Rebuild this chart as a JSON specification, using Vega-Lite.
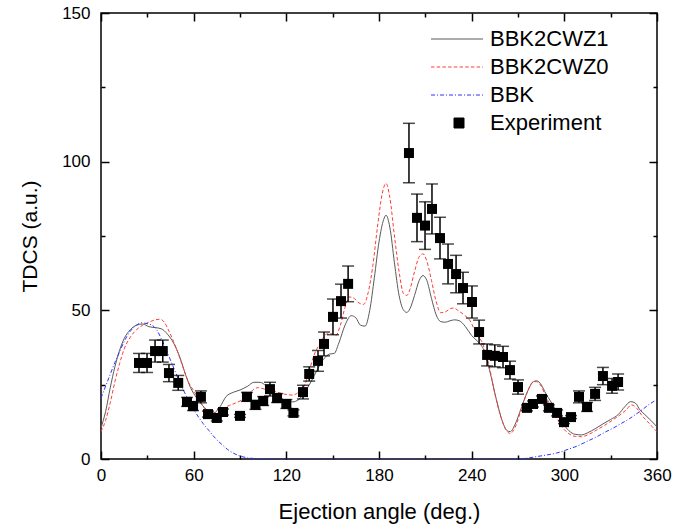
{
  "$schema": "https://vega.github.io/schema/vega-lite/v6.json",
  "width": 556,
  "height": 446,
  "autosize": {"type": "none"},
  "padding": {"left": 101, "top": 13, "right": 32, "bottom": 71},
  "background": "white",
  "config": {
    "font": "Liberation Sans",
    "view": {"stroke": "black", "strokeWidth": 1.5},
    "axis": {"grid": false, "domain": false, "tickColor": "black", "tickWidth": 1.5, "labelFont": "Liberation Sans", "labelFontSize": 17, "labelColor": "black", "titleFont": "Liberation Sans", "titleFontSize": 21, "titleFontWeight": "normal", "titleColor": "black"}
  },
  "resolve": {"axis": {"x": "independent", "y": "independent"}},
  "datasets": {
    "z1": [
      {"a":0,"v":10.5},{"a":3,"v":16},{"a":6,"v":24},{"a":9,"v":31},{"a":12,"v":36.5},{"a":15,"v":40.5},{"a":19,"v":43.5},{"a":23,"v":45},{"a":27,"v":45.4},{"a":31,"v":44.5},{"a":35,"v":44.2},{"a":39,"v":43.8},{"a":43,"v":42},{"a":47,"v":39},{"a":51,"v":34.3},{"a":55,"v":28},{"a":58,"v":24},{"a":62,"v":20.5},{"a":65,"v":18.5},{"a":69,"v":16.3},{"a":73,"v":15.5},{"a":77,"v":17.5},{"a":81,"v":21},{"a":86,"v":22.5},{"a":90,"v":23.2},{"a":95,"v":24.5},{"a":99,"v":25.8},{"a":103,"v":25.8},{"a":107,"v":24.5},{"a":111,"v":22.5},{"a":116,"v":20.5},{"a":120,"v":19.8},{"a":124,"v":19.2},{"a":128,"v":20},{"a":132,"v":22.5},{"a":136,"v":26},{"a":140,"v":30},{"a":144,"v":33.5},{"a":148,"v":35.3},{"a":151,"v":35.5},{"a":154,"v":39},{"a":158,"v":45},{"a":162,"v":48.2},{"a":165,"v":47.5},{"a":168,"v":45},{"a":171,"v":44.7},{"a":174,"v":50},{"a":177,"v":61},{"a":180,"v":73},{"a":183,"v":80.5},{"a":184.5,"v":82},{"a":187,"v":78},{"a":190,"v":66},{"a":193,"v":55},{"a":196,"v":50},{"a":198,"v":49.3},{"a":200,"v":50.5},{"a":203,"v":55},{"a":206,"v":60},{"a":208.5,"v":61.7},{"a":211,"v":60},{"a":214,"v":54},{"a":217,"v":48.5},{"a":220,"v":46.2},{"a":223,"v":46},{"a":226,"v":46.5},{"a":229,"v":46.8},{"a":232,"v":46.5},{"a":236,"v":44.5},{"a":240,"v":41.5},{"a":244,"v":39.5},{"a":248,"v":36.5},{"a":252,"v":29},{"a":256,"v":20},{"a":260,"v":12.5},{"a":263,"v":9.5},{"a":265,"v":9.2},{"a":268,"v":11.5},{"a":272,"v":17},{"a":276,"v":22.5},{"a":280,"v":26},{"a":282,"v":26.3},{"a":285,"v":25},{"a":288,"v":22},{"a":291,"v":19.5},{"a":295,"v":16},{"a":299,"v":12.1},{"a":303,"v":9.5},{"a":307,"v":8.3},{"a":311,"v":8.1},{"a":315,"v":8.8},{"a":320,"v":10.2},{"a":325,"v":11.8},{"a":330,"v":13.3},{"a":335,"v":15},{"a":339,"v":17.5},{"a":343,"v":19.3},{"a":346,"v":18.8},{"a":349,"v":16.5},{"a":352,"v":15},{"a":356,"v":13},{"a":360,"v":10.8}
    ],
    "z0": [
      {"a":0,"v":9.2},{"a":3,"v":13},{"a":6,"v":19},{"a":9,"v":26},{"a":12,"v":32},{"a":15,"v":37},{"a":19,"v":41},{"a":23,"v":43.5},{"a":27,"v":45},{"a":31,"v":46},{"a":35,"v":46.8},{"a":38,"v":47},{"a":41,"v":46},{"a":44,"v":43},{"a":47,"v":39.5},{"a":50,"v":35.5},{"a":53,"v":31},{"a":57,"v":25.5},{"a":60,"v":23},{"a":64,"v":19.5},{"a":68,"v":16.5},{"a":72,"v":15.5},{"a":75,"v":15.5},{"a":79,"v":17},{"a":83,"v":18},{"a":87,"v":18.8},{"a":91,"v":19.8},{"a":95,"v":21.5},{"a":99,"v":23.5},{"a":102,"v":24},{"a":106,"v":23.5},{"a":110,"v":23.2},{"a":114,"v":22.5},{"a":119,"v":21.8},{"a":124,"v":21.5},{"a":128,"v":22.5},{"a":132,"v":25},{"a":135,"v":30},{"a":138,"v":35},{"a":142,"v":39},{"a":146,"v":42},{"a":149,"v":42.2},{"a":152,"v":41.5},{"a":155,"v":45},{"a":158,"v":51},{"a":161,"v":54.5},{"a":164,"v":54},{"a":167,"v":52.5},{"a":170,"v":52},{"a":173,"v":56},{"a":176,"v":65},{"a":179,"v":78},{"a":182,"v":89},{"a":184.5,"v":92.7},{"a":187,"v":88},{"a":190,"v":75},{"a":193,"v":63},{"a":196,"v":55.5},{"a":198,"v":55},{"a":200,"v":57},{"a":203,"v":63},{"a":206,"v":68},{"a":208.5,"v":69},{"a":211,"v":66.5},{"a":214,"v":60},{"a":217,"v":53},{"a":220,"v":49.2},{"a":223,"v":49.5},{"a":226,"v":50.5},{"a":228.5,"v":50.8},{"a":231,"v":50},{"a":235,"v":48.5},{"a":239,"v":46.5},{"a":243,"v":42},{"a":247,"v":39},{"a":251,"v":32},{"a":255,"v":22},{"a":259,"v":14},{"a":262,"v":10},{"a":265,"v":8.6},{"a":268,"v":10.5},{"a":272,"v":16.5},{"a":276,"v":22.5},{"a":280,"v":26},{"a":282,"v":26},{"a":285,"v":24.5},{"a":288,"v":21},{"a":291,"v":18},{"a":295,"v":14},{"a":299,"v":10.5},{"a":303,"v":8.5},{"a":307,"v":7.6},{"a":311,"v":7.5},{"a":316,"v":8.3},{"a":321,"v":9.8},{"a":326,"v":11.3},{"a":331,"v":13},{"a":336,"v":14.8},{"a":340,"v":16.5},{"a":343.5,"v":18.2},{"a":347,"v":17},{"a":350,"v":14.8},{"a":354,"v":12.5},{"a":357,"v":10.8},{"a":360,"v":9.2}
    ],
    "bbk": [
      {"a":0,"v":20.5},{"a":3,"v":24.5},{"a":6,"v":28.5},{"a":9,"v":32.5},{"a":12,"v":36},{"a":15,"v":39.5},{"a":19,"v":43},{"a":23,"v":45},{"a":26,"v":45.8},{"a":29,"v":45.6},{"a":33,"v":45},{"a":36,"v":43.5},{"a":39,"v":40.5},{"a":42,"v":37},{"a":46,"v":32},{"a":50,"v":27},{"a":54,"v":22.5},{"a":58,"v":18.5},{"a":62,"v":15},{"a":66,"v":12},{"a":70,"v":9.5},{"a":74,"v":7},{"a":78,"v":5},{"a":82,"v":3.2},{"a":86,"v":1.9},{"a":90,"v":1},{"a":95,"v":0.4},{"a":100,"v":0.15},{"a":110,"v":0.05},{"a":130,"v":0},{"a":250,"v":0},{"a":262,"v":0.05},{"a":270,"v":0.1},{"a":276,"v":0.3},{"a":282,"v":0.8},{"a":288,"v":1.3},{"a":295,"v":2},{"a":301,"v":3},{"a":308,"v":4.3},{"a":315,"v":6},{"a":321,"v":7.5},{"a":327,"v":9.2},{"a":332,"v":10.5},{"a":337,"v":12},{"a":342,"v":13.5},{"a":347,"v":15.3},{"a":351,"v":16.8},{"a":355,"v":18.4},{"a":360,"v":20}
    ],
    "exp": [
      {"a":24.6,"v":32.3,"e":3.2},{"a":29.8,"v":32.3,"e":3.2},{"a":35,"v":36.3,"e":3.7},{"a":40,"v":36.3,"e":3.7},{"a":44,"v":28.9,"e":2.9},{"a":50,"v":25.6,"e":2.5},{"a":55.7,"v":19.2,"e":1.5},{"a":59.6,"v":17.8,"e":1.5},{"a":64.7,"v":20.9,"e":2},{"a":69.3,"v":15.1,"e":1},{"a":75,"v":13.8,"e":1},{"a":79,"v":15.8,"e":1},{"a":90,"v":14.5,"e":0.5},{"a":94.5,"v":20.9,"e":1.5},{"a":100,"v":18.2,"e":1.5},{"a":105,"v":19.5,"e":1.5},{"a":109.4,"v":23.5,"e":2.3},{"a":114,"v":20.5,"e":1.5},{"a":120,"v":18.5,"e":1.5},{"a":124.6,"v":15.5,"e":1},{"a":130.8,"v":22.5,"e":2.3},{"a":134.8,"v":28.6,"e":2.4},{"a":140.5,"v":33,"e":3.5},{"a":144.4,"v":38.7,"e":4},{"a":150.2,"v":47.8,"e":6},{"a":155.4,"v":53.1,"e":5.7},{"a":160,"v":58.9,"e":6},{"a":199.4,"v":102.9,"e":10},{"a":204.6,"v":81.1,"e":8},{"a":209.8,"v":78.5,"e":8},{"a":214.3,"v":84.1,"e":8.4},{"a":219.5,"v":74.3,"e":7},{"a":224.7,"v":65.6,"e":6.7},{"a":229.9,"v":62.2,"e":6.3},{"a":234.4,"v":57.5,"e":5.3},{"a":240.2,"v":52.8,"e":5.4},{"a":244.8,"v":42.7,"e":4},{"a":250,"v":35,"e":3.7},{"a":255,"v":34.7,"e":3.7},{"a":260.3,"v":34.3,"e":3.6},{"a":264.8,"v":29.9,"e":3},{"a":270,"v":24.2,"e":2.4},{"a":275.8,"v":17.2,"e":1},{"a":279.7,"v":18.5,"e":1},{"a":285.5,"v":20.2,"e":1},{"a":290,"v":17.2,"e":1},{"a":295.3,"v":15.5,"e":1},{"a":299.8,"v":12.4,"e":0.5},{"a":304.3,"v":14.1,"e":0.5},{"a":309.5,"v":20.9,"e":2},{"a":314.7,"v":17.5,"e":1.5},{"a":319.9,"v":21.9,"e":2.2},{"a":325,"v":27.9,"e":2.9},{"a":330.9,"v":24.6,"e":2.5},{"a":334.8,"v":25.9,"e":2.7}
    ]
  },
  "layer": [
    {
      "data": {"name": "z1"},
      "mark": {"type": "line", "interpolate": "monotone", "strokeWidth": 1, "clip": true},
      "encoding": {
        "x": {"field": "a", "type": "quantitative", "scale": {"domain": [0, 360], "nice": false, "zero": false},
              "axis": {"orient": "bottom", "values": [0, 60, 120, 180, 240, 300, 360], "tickSize": -8, "labelPadding": 16, "labelFlush": false, "labelOverlap": false, "title": "Ejection angle (deg.)", "titleFontSize": 22, "titlePadding": 18}},
        "y": {"field": "v", "type": "quantitative", "scale": {"domain": [0, 150], "nice": false},
              "axis": {"orient": "left", "values": [0, 50, 100, 150], "tickSize": -8, "labelPadding": 19, "labelFlush": false, "labelOverlap": false, "title": "TDCS (a.u.)", "titlePadding": 21}},
        "color": {"datum": "BBK2CWZ1", "type": "nominal",
                  "scale": {"domain": ["BBK2CWZ1", "BBK2CWZ0", "BBK", "Experiment"], "range": ["#5a5a5a", "#ff3b3b", "#3030ff", "#000000"]},
                  "legend": {"orient": "none", "legendX": 329, "legendY": 15, "title": null, "padding": 0, "symbolSize": 400, "labelFont": "Liberation Sans", "labelFontSize": 22, "labelColor": "black", "labelOffset": 38, "rowPadding": 6, "symbolStrokeWidth": 1,
                    "encode": {"symbols": {"update": {
                      "shape": {"signal": "datum.value === 'Experiment' ? 'M1.3,-0.5H2.3V0.5H1.3Z' : 'M-1,0H4.2'"},
                      "strokeDash": {"signal": "datum.value === 'BBK2CWZ0' ? [3.5,2.2] : datum.value === 'BBK' ? [4,2,1,2] : []"},
                      "fill": {"signal": "datum.value === 'Experiment' ? '#000000' : 'transparent'"},
                      "stroke": {"signal": "datum.value === 'Experiment' ? 'transparent' : scale('color', datum.value)"},
                      "strokeWidth": {"value": 1},
                      "opacity": {"value": 1},
                      "fillOpacity": {"value": 1}
                    }}}}}
      }
    },
    {
      "data": {"name": "z0"},
      "mark": {"type": "line", "interpolate": "monotone", "strokeWidth": 1, "strokeDash": [3.5, 2.2], "clip": true},
      "encoding": {
        "x": {"field": "a", "type": "quantitative", "axis": {"orient": "bottom", "values": [30, 90, 150, 210, 270, 330], "tickSize": -4, "labels": false, "title": null}},
        "y": {"field": "v", "type": "quantitative", "axis": {"orient": "left", "values": [25, 75, 125], "tickSize": -4, "labels": false, "title": null}},
        "color": {"datum": "BBK2CWZ0", "type": "nominal"}
      }
    },
    {
      "data": {"name": "bbk"},
      "mark": {"type": "line", "interpolate": "monotone", "strokeWidth": 1, "strokeDash": [4, 2, 1, 2], "clip": true},
      "encoding": {
        "x": {"field": "a", "type": "quantitative", "axis": {"orient": "top", "values": [0, 60, 120, 180, 240, 300, 360], "tickSize": -8, "labels": false, "title": null}},
        "y": {"field": "v", "type": "quantitative", "axis": {"orient": "right", "values": [0, 50, 100, 150], "tickSize": -8, "labels": false, "title": null}},
        "color": {"datum": "BBK", "type": "nominal"}
      }
    },
    {
      "data": {"name": "exp"},
      "mark": {"type": "errorbar", "color": "black", "ticks": {"size": 12, "thickness": 1.5, "color": "black"}, "rule": {"strokeWidth": 1.5, "color": "black"}},
      "encoding": {
        "x": {"field": "a", "type": "quantitative", "axis": null},
        "y": {"field": "v", "type": "quantitative", "axis": null},
        "yError": {"field": "e"}
      }
    },
    {
      "data": {"name": "exp"},
      "mark": {"type": "square", "size": 100, "filled": true, "opacity": 1},
      "encoding": {
        "x": {"field": "a", "type": "quantitative", "axis": {"orient": "top", "values": [30, 90, 150, 210, 270, 330], "tickSize": -4, "labels": false, "title": null}},
        "y": {"field": "v", "type": "quantitative", "axis": {"orient": "right", "values": [25, 75, 125], "tickSize": -4, "labels": false, "title": null}},
        "color": {"datum": "Experiment", "type": "nominal"}
      }
    }
  ]
}
